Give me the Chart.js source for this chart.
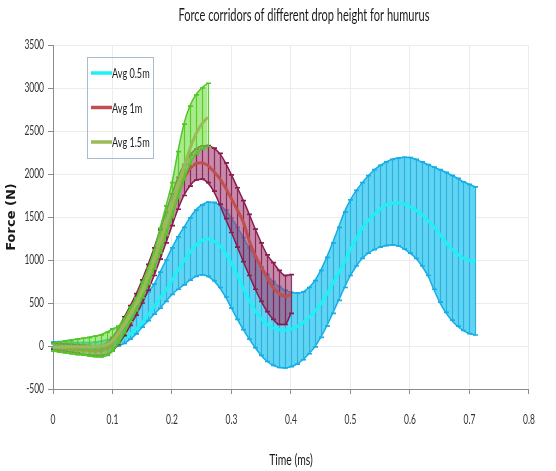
<!DOCTYPE html>
<html>
<head>
<meta charset="utf-8">
<title>Force corridors</title>
<script src="https://cdn.jsdelivr.net/npm/chart.js@4.4.1/dist/chart.umd.min.js"></script>
<style>
  html, body { margin: 0; padding: 0; background: #ffffff; }
  #c { display: block; }
</style>
</head>
<body>
<canvas id="c" width="556" height="471"></canvas>
<script>
// Sample times (ms), shared by all three drop heights
const time = [
  0.00, 0.01, 0.02, 0.03, 0.04, 0.05, 0.06, 0.07, 0.08, 0.09,
  0.10, 0.11, 0.12, 0.13, 0.14, 0.15, 0.16, 0.17, 0.18, 0.19,
  0.20, 0.21, 0.22, 0.23, 0.24, 0.25, 0.26, 0.27, 0.28, 0.29,
  0.30, 0.31, 0.32, 0.33, 0.34, 0.35, 0.36, 0.37, 0.38, 0.39,
  0.40, 0.41, 0.42, 0.43, 0.44, 0.45, 0.46, 0.47, 0.48, 0.49,
  0.50, 0.51, 0.52, 0.53, 0.54, 0.55, 0.56, 0.57, 0.58, 0.59,
  0.60, 0.61, 0.62, 0.63, 0.64, 0.65, 0.66, 0.67, 0.68, 0.69,
  0.70, 0.71
];

// 0.5 m drop: average force and corridor bounds (N)
const avg05 = [
  10, 10, 5, 0, -5, -5, -5, 0, 5, 15,
  30, 55, 90, 140, 200, 270, 370, 460, 560, 650,
  760, 880, 990, 1090, 1170, 1225, 1245, 1220, 1170, 1080,
  960, 820, 670, 530, 410, 320, 250, 210, 190, 185,
  195, 225, 270, 330, 400, 490, 600, 720, 850, 980,
  1120, 1250, 1370, 1460, 1530, 1590, 1640, 1660, 1665, 1650,
  1620, 1580, 1530, 1460, 1390, 1300, 1210, 1130, 1070, 1020,
  995, 980
];
const upper05 = [
  45, 50, 50, 45, 40, 40, 40, 45, 55, 70,
  95, 140, 200, 300, 440, 540, 630, 720, 860, 1000,
  1140, 1270, 1380, 1490, 1580, 1640, 1672, 1670, 1640, 1580,
  1490, 1380, 1260, 1140, 1030, 920, 830, 750, 690, 650,
  625, 615, 630, 680, 760, 880, 1030, 1200, 1380, 1560,
  1700, 1810, 1900, 1980, 2050, 2100, 2140, 2170, 2185, 2195,
  2192, 2170, 2140, 2110, 2080, 2050, 2020, 1985, 1950, 1910,
  1880, 1850
];
const lower05 = [
  -25, -30, -35, -40, -45, -50, -50, -45, -40, -30,
  -20, 0, 30, 80, 140, 220, 295, 370, 440, 520,
  600, 660, 710, 765, 810, 828, 810, 760, 680, 570,
  440, 310, 190, 80, -20, -110, -180, -225, -250, -255,
  -240, -210, -160, -90, -10, 100, 230, 380, 530, 680,
  820, 930, 1020, 1080, 1120, 1150, 1168, 1175, 1165, 1130,
  1080, 1020, 930, 820, 660, 510, 390, 300, 230, 180,
  145, 128
];

// 1 m drop
const avg1 = [
  -10, -15, -20, -30, -40, -45, -50, -55, -55, -30,
  40, 150, 280, 400, 530, 680, 820, 990, 1180, 1390,
  1600, 1790, 1950, 2060, 2120, 2130, 2100, 2030, 1950, 1840,
  1710, 1580, 1440, 1220, 1050, 920, 790, 680, 610, 575,
  600
];
const upper1 = [
  30, 30, 25, 20, 15, 10, 5, 0, 5, 30,
  100, 210, 340, 470, 610, 770, 950, 1140, 1350, 1560,
  1770, 1960, 2110, 2220, 2290, 2325, 2330, 2300, 2240, 2130,
  1990, 1840, 1690, 1530, 1360, 1200, 1060, 970, 880, 820,
  830
];
const lower1 = [
  -40, -50, -60, -70, -80, -100, -105, -110, -110, -100,
  -60, 20, 120, 240, 360, 500, 650, 820, 1010, 1200,
  1400, 1590, 1750, 1860, 1930, 1940, 1900, 1800, 1650, 1480,
  1320, 1150, 980, 820, 660, 520, 400, 310, 250, 250,
  380
];

// 1.5 m drop
const avg15 = [
  -15, -15, -10, -10, -10, -10, -10, -5, 0, 15,
  60, 150, 250, 370, 500, 650, 820, 1010, 1210, 1420,
  1630, 1860, 2080, 2290, 2460, 2580, 2660
];
const upper15 = [
  30, 45, 60, 70, 80, 90, 100, 115, 130, 160,
  200, 230, 320, 450, 560, 740, 910, 1110, 1370, 1630,
  1900, 2260, 2580, 2790, 2920, 3000, 3055
];
const lower15 = [
  -60, -70, -80, -90, -100, -105, -115, -125, -128, -110,
  -60, 30, 150, 280, 410, 560, 720, 900, 1080, 1290,
  1500, 1720, 1930, 2110, 2230, 2290, 2320
];

const seriesLabels = ['Avg 0.5m', 'Avg 1m', 'Avg 1.5m'];
const xTicks = [0, 0.1, 0.2, 0.3, 0.4, 0.5, 0.6, 0.7, 0.8];
const yTicks = [-500, 0, 500, 1000, 1500, 2000, 2500, 3000, 3500];
const chartTitle = 'Force corridors of different drop height for humurus';

const textFont = "Lato, 'DejaVu Sans Condensed', sans-serif";
const squeeze = 0.65; // horizontal narrowing of the horizontal lettering

function pts(values) {
  return values.map((v, i) => ({ x: time[i], y: v }));
}

// Style of each corridor: mean line, band fill, error bar and edge colours
const styles = [
  { mean: '#1ef0f6', fill: 'rgb(98,212,243)', bar: '#2bb2df', edge: '#16aee6' },
  { mean: '#c0504d', fill: 'rgba(166,66,116,0.62)', bar: 'rgba(135,30,85,0.9)', edge: '#8a1d4f' },
  { mean: '#9bbb59', fill: 'rgba(116,222,70,0.62)', bar: 'rgba(84,202,40,0.95)', edge: '#52c628' }
];
const groups = [
  { avg: avg05, up: upper05, lo: lower05 },
  { avg: avg1, up: upper1, lo: lower1 },
  { avg: avg15, up: upper15, lo: lower15 }
];

// Three datasets per drop height: upper bound, lower bound (filled up to the upper one), mean
const datasets = [];
const meanIndex = [];
groups.forEach((g, k) => {
  const st = styles[k];
  const base = 30 - k * 10; // higher order is painted first: 0.5 m lowest, 1.5 m on top
  const upIdx = datasets.length;
  datasets.push({
    label: seriesLabels[k] + ' upper',
    data: pts(g.up),
    borderColor: st.edge,
    borderWidth: 1.5,
    pointRadius: 0,
    fill: false,
    cubicInterpolationMode: 'monotone',
    order: base + 1
  });
  datasets.push({
    label: seriesLabels[k] + ' lower',
    data: pts(g.lo),
    borderColor: st.edge,
    borderWidth: 1.5,
    pointRadius: 0,
    fill: { target: upIdx },
    backgroundColor: st.fill,
    cubicInterpolationMode: 'monotone',
    order: base + 2,
    errorBars: { upper: g.up, lower: g.lo, bar: st.bar, cap: st.edge }
  });
  meanIndex.push(datasets.length);
  datasets.push({
    label: seriesLabels[k],
    data: pts(g.avg),
    borderColor: st.mean,
    borderWidth: 3,
    pointRadius: 0,
    fill: false,
    cubicInterpolationMode: 'monotone',
    order: base
  });
});

// Horizontal text is drawn narrowed around its anchor point; rotated text is left as is
const narrowText = {
  id: 'narrowText',
  beforeInit(chart) {
    const ctx = chart.ctx;
    const fill = ctx.fillText.bind(ctx);
    ctx.fillText = function (text, x, y, maxWidth) {
      const m = ctx.getTransform();
      if (Math.abs(m.b) > 1e-6) {
        return fill(text, x, y, maxWidth);
      }
      ctx.save();
      ctx.translate(x, y);
      ctx.scale(squeeze, 1);
      fill(text, 0, 0);
      ctx.restore();
    };
  }
};

// Chart heading, centred a little right of the plot middle
const heading = {
  id: 'heading',
  afterDraw(chart) {
    const ctx = chart.ctx;
    const a = chart.chartArea;
    ctx.save();
    ctx.font = '17px ' + textFont;
    ctx.fillStyle = '#1a1a1a';
    ctx.textAlign = 'center';
    ctx.textBaseline = 'middle';
    ctx.fillText(chartTitle, (a.left + a.right) / 2 + 13, 16);
    ctx.restore();
  }
};

// Vertical error bars with short caps, painted right after each band
const corridorBars = {
  id: 'corridorBars',
  afterDatasetDraw(chart, args) {
    const ds = chart.data.datasets[args.index];
    if (!ds.errorBars) return;
    const eb = ds.errorBars;
    const xs = chart.scales.x, ys = chart.scales.y;
    const ctx = chart.ctx;
    ctx.save();
    ctx.lineWidth = 1.2;
    ctx.strokeStyle = eb.bar;
    ctx.beginPath();
    for (let i = 0; i < eb.upper.length; i++) {
      const px = Math.round(xs.getPixelForValue(time[i])) + 0.5;
      ctx.moveTo(px, ys.getPixelForValue(eb.upper[i]));
      ctx.lineTo(px, ys.getPixelForValue(eb.lower[i]));
    }
    ctx.stroke();
    ctx.lineWidth = 1.7;
    ctx.strokeStyle = eb.cap;
    ctx.beginPath();
    for (let i = 0; i < eb.upper.length; i++) {
      const px = Math.round(xs.getPixelForValue(time[i])) + 0.5;
      const yu = ys.getPixelForValue(eb.upper[i]);
      const yl = ys.getPixelForValue(eb.lower[i]);
      ctx.moveTo(px - 2.5, yu); ctx.lineTo(px + 2.5, yu);
      ctx.moveTo(px - 2.5, yl); ctx.lineTo(px + 2.5, yl);
    }
    ctx.stroke();
    ctx.restore();
  }
};

// Boxed legend inside the plot area listing the mean lines
const boxLegend = {
  id: 'boxLegend',
  afterDraw(chart) {
    const ctx = chart.ctx;
    const a = chart.chartArea;
    const x0 = a.left + 34, y0 = a.top + 12, w = 66, h = 101;
    ctx.save();
    ctx.strokeStyle = '#a9bdd2';
    ctx.lineWidth = 1;
    ctx.strokeRect(Math.round(x0) + 0.5, Math.round(y0) + 0.5, w, h);
    ctx.font = '14px ' + textFont;
    ctx.textBaseline = 'middle';
    ctx.textAlign = 'left';
    meanIndex.forEach((di, k) => {
      const ds = chart.data.datasets[di];
      const y = y0 + 16 + k * 34.5;
      ctx.strokeStyle = ds.borderColor;
      ctx.lineWidth = 3.5;
      ctx.beginPath();
      ctx.moveTo(x0 + 4, y);
      ctx.lineTo(x0 + 25, y);
      ctx.stroke();
      ctx.fillStyle = '#222222';
      ctx.fillText(ds.label, x0 + 25, y + 0.5);
    });
    ctx.restore();
  }
};

new Chart(document.getElementById('c'), {
  type: 'line',
  data: { datasets },
  plugins: [narrowText, corridorBars, boxLegend, heading],
  options: {
    responsive: false,
    devicePixelRatio: 1,
    animation: false,
    layout: { padding: { left: 0, right: 7, top: 45, bottom: 0 } },
    plugins: {
      legend: { display: false },
      tooltip: { enabled: false },
      title: { display: false }
    },
    scales: {
      x: {
        type: 'linear',
        min: 0,
        max: 0.8,
        afterBuildTicks: s => { s.ticks = xTicks.map(v => ({ value: v })); },
        afterFit: s => { s.height = 82; },
        ticks: {
          color: '#333333',
          font: { family: textFont, size: 13 },
          padding: 18,
          maxRotation: 0,
          callback: v => String(Math.round(v * 10) / 10)
        },
        grid: { color: '#ececec', tickColor: '#8c8c8c', tickLength: 5, drawTicks: true },
        border: { display: true, color: '#8c8c8c', width: 1 },
        title: {
          display: true,
          text: 'Time (ms)',
          color: '#1a1a1a',
          font: { family: textFont, size: 16 },
          padding: { top: 0, bottom: 2 }
        }
      },
      y: {
        type: 'linear',
        min: -500,
        max: 3500,
        afterBuildTicks: s => { s.ticks = yTicks.map(v => ({ value: v })); },
        afterFit: s => { s.width = 53; },
        ticks: {
          color: '#333333',
          font: { family: textFont, size: 13 },
          padding: 4,
          callback: v => String(v)
        },
        grid: { color: '#ececec', tickColor: '#8c8c8c', tickLength: 5, drawTicks: true },
        border: { display: true, color: '#8c8c8c', width: 1 },
        title: {
          display: true,
          text: 'Force (N)',
          color: '#1a1a1a',
          font: { family: "'DejaVu Sans', sans-serif", size: 13, weight: 'bold' },
          padding: { top: 4, bottom: 0 }
        }
      }
    }
  }
});
</script>
</body>
</html>
